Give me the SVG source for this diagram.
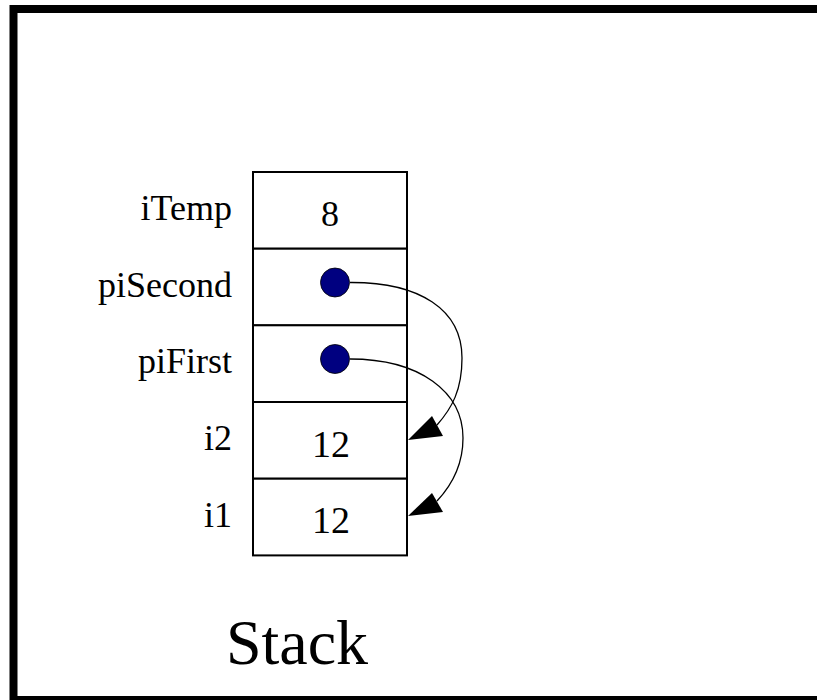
<svg xmlns="http://www.w3.org/2000/svg" width="817" height="700" viewBox="0 0 817 700">
<style>
.lbl{font-family:"Liberation Serif","Times New Roman",serif;font-size:36px;fill:#000;text-anchor:end}
.val{font-family:"Liberation Serif","Times New Roman",serif;fill:#000;text-anchor:middle}
.cell{fill:#fff;stroke:#000;stroke-width:2}
.dot{fill:#000080;stroke:#000;stroke-width:0.8}
.wire{fill:none;stroke:#000;stroke-width:1.3}
</style>
<rect x="0" y="0" width="817" height="700" fill="#fff"/>
<rect x="13.5" y="9" width="820" height="691" fill="none" stroke="#000" stroke-width="8"/>
<g id="row-iTemp">
<rect class="cell" x="253" y="172" width="154" height="76.7"/>
<text class="lbl" x="232" y="220">iTemp</text>
<text class="val" x="330" y="226" font-size="36">8</text>
</g>
<g id="row-piSecond">
<rect class="cell" x="253" y="248.7" width="154" height="76.7"/>
<text class="lbl" x="232" y="297">piSecond</text>
<circle class="dot" cx="335" cy="282.5" r="14.5"/>
</g>
<g id="row-piFirst">
<rect class="cell" x="253" y="325.3" width="154" height="76.7"/>
<text class="lbl" x="232" y="373">piFirst</text>
<circle class="dot" cx="335" cy="359" r="14.5"/>
</g>
<g id="row-i2">
<rect class="cell" x="253" y="402" width="154" height="76.7"/>
<text class="lbl" x="232" y="450">i2</text>
<text class="val" x="331" y="457" font-size="38">12</text>
</g>
<g id="row-i1">
<rect class="cell" x="253" y="478.7" width="154" height="76.7"/>
<text class="lbl" x="232" y="527">i1</text>
<text class="val" x="331" y="533" font-size="38">12</text>
</g>
<g id="connectors">
<path class="wire" d="M350,282.5 C420,282 462,310 462,358 C462,390 452,408 437,425"/>
<path d="M408,440 L432,416 L443,436 Z" fill="#000"/>
<path class="wire" d="M350,359 C420,359 463,392 463,438 C463,465 452,485 437,501"/>
<path d="M408,516 L432,493 L443,512 Z" fill="#000"/>
</g>
<g id="title">
<text x="297" y="664" font-family="Liberation Serif, Times New Roman, serif" font-size="64" text-anchor="middle" fill="#000">Stack</text>
</g>
</svg>
